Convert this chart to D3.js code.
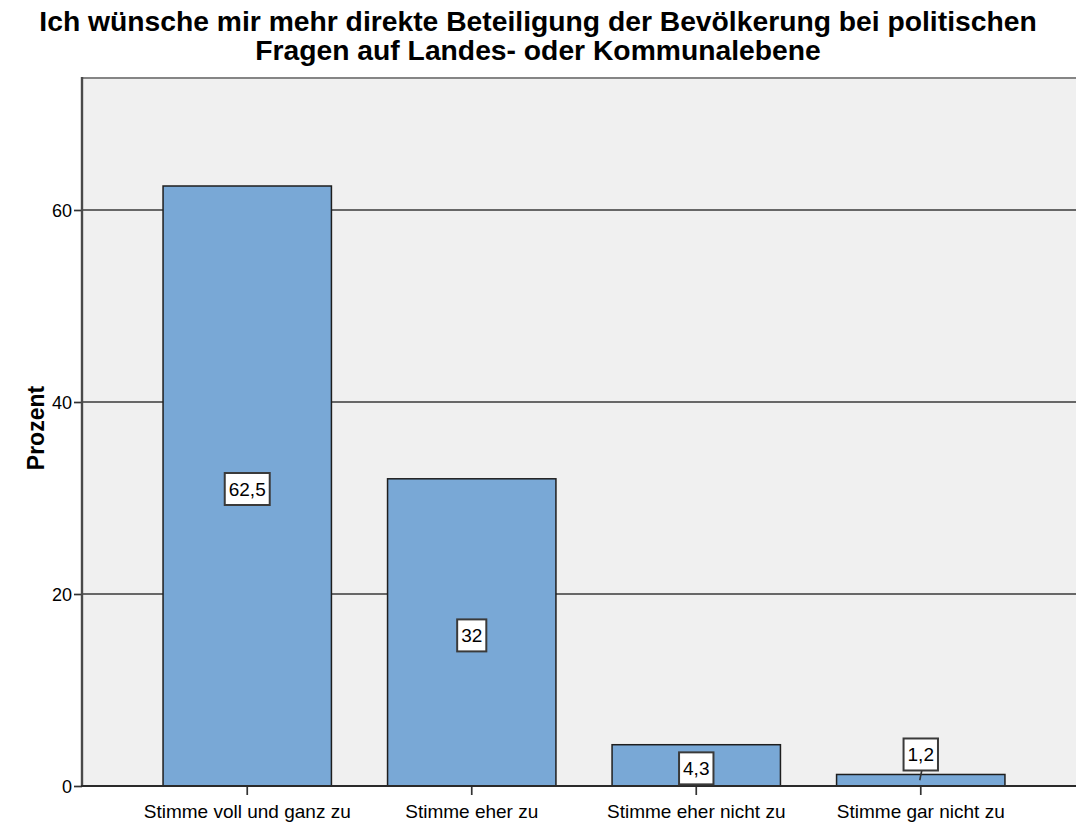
<!DOCTYPE html>
<html><head><meta charset="utf-8">
<script src="https://cdn.jsdelivr.net/npm/d3@7"></script>
<style>body{margin:0;background:#fff}svg{display:block}text{font-family:"Liberation Sans",Arial,sans-serif}</style>
</head><body>
<svg id="c" width="1076" height="825"></svg>
<script>
const titleLines = ["Ich wünsche mir mehr direkte Beteiligung der Bevölkerung bei politischen","Fragen auf Landes- oder Kommunalebene"];
const categories = ["Stimme voll und ganz zu","Stimme eher zu","Stimme eher nicht zu","Stimme gar nicht zu"];
const values = [62.5, 32, 4.3, 1.2];
const valueLabels = ["62,5","32","4,3","1,2"];
const yTicks = [0, 20, 40, 60];
const yLabel = "Prozent";

const svg = d3.select("#c");
const L = 82, R = 1086, T = 78, B = 786;
const y = d3.scaleLinear().domain([0, 73.75]).range([B, T]);
const x = d3.scaleBand().domain(categories).range([L, R]).paddingInner(0.25).paddingOuter(0.361);

// plot background
svg.append("rect").attr("x", L).attr("y", T).attr("width", R - L).attr("height", B - T).attr("fill", "#f0f0f0");
// top frame
svg.append("line").attr("x1", L).attr("x2", R).attr("y1", T).attr("y2", T).attr("stroke", "#858585").attr("stroke-width", 2.2);

// gridlines
svg.append("g").selectAll("line").data(yTicks.filter(d => d > 0)).join("line")
  .attr("x1", L).attr("x2", R).attr("y1", d => y(d)).attr("y2", d => y(d))
  .attr("stroke", "#3a3a3a").attr("stroke-width", 1.7);

// bars
svg.append("g").selectAll("rect").data(values).join("rect")
  .attr("x", (d, i) => x(categories[i]))
  .attr("width", x.bandwidth())
  .attr("y", d => y(d))
  .attr("height", d => B - y(d))
  .attr("fill", "#79a8d6").attr("stroke", "#1e1e1e").attr("stroke-width", 1.5);

// y axis
const yAxis = d3.axisLeft(y).tickValues(yTicks).tickSize(8).tickPadding(2).tickFormat(d3.format("d"));
const gy = svg.append("g").attr("transform", `translate(${L},0)`).call(yAxis);
gy.select(".domain").remove();
gy.selectAll(".tick line").attr("stroke", "#333").attr("stroke-width", 1.7);
gy.selectAll(".tick text").attr("font-size", 18).attr("fill", "#000").attr("dy", "0.36em");
svg.append("line").attr("x1", L).attr("x2", L).attr("y1", T - 1).attr("y2", B + 1).attr("stroke", "#4a4a4a").attr("stroke-width", 2.4);

// x axis
const xAxis = d3.axisBottom(x).tickSize(9).tickPadding(0);
const gx = svg.append("g").attr("transform", `translate(0,${B})`).call(xAxis);
gx.select(".domain").remove();
gx.selectAll(".tick line").attr("stroke", "#333").attr("stroke-width", 1.7);
gx.selectAll(".tick text").attr("font-size", 19).attr("fill", "#000").attr("dy", null).attr("y", 32);
svg.append("line").attr("x1", L - 1).attr("x2", R).attr("y1", B).attr("y2", B).attr("stroke", "#2a2a2a").attr("stroke-width", 1.8);

// value labels
const lab = svg.append("g");
values.forEach((v, i) => {
  const cx = x(categories[i]) + x.bandwidth() / 2;
  const h = B - y(v);
  const outside = h < 20;
  const cy = outside ? y(v) - 20 : (y(v) + B) / 2 + 3;
  const g = lab.append("g");
  const t = g.append("text").attr("x", cx).attr("y", cy).attr("text-anchor", "middle")
    .attr("dominant-baseline", "central").attr("font-size", 19).attr("fill", "#000").text(valueLabels[i]);
  const w = t.node().getComputedTextLength();
  if (outside) {
    g.insert("line", "text").attr("x1", cx + 1).attr("x2", cx - 1).attr("y1", cy + 16).attr("y2", (y(v) + B) / 2)
      .attr("stroke", "#333").attr("stroke-width", 1.6);
  }
  g.insert("rect", "text").attr("x", cx - w / 2 - 4).attr("y", cy - 16).attr("width", w + 8).attr("height", 32)
    .attr("fill", "#fff").attr("stroke", "#3a3a3a").attr("stroke-width", 2);
});

// y label
svg.append("text").attr("transform", `translate(44,${(T + B) / 2 - 4}) rotate(-90)`)
  .attr("text-anchor", "middle").attr("font-size", 23).attr("font-weight", "bold").text(yLabel);

// title
const tg = svg.append("g");
titleLines.forEach((s, i) => {
  tg.append("text").attr("x", 538).attr("y", 31 + i * 29).attr("text-anchor", "middle")
    .attr("font-size", 22).attr("font-weight", "bold").text(s);
});
const tw = tg.select("text").node().getComputedTextLength();
tg.selectAll("text").attr("font-size", 22 * 998 / tw);
</script>
</body></html>
